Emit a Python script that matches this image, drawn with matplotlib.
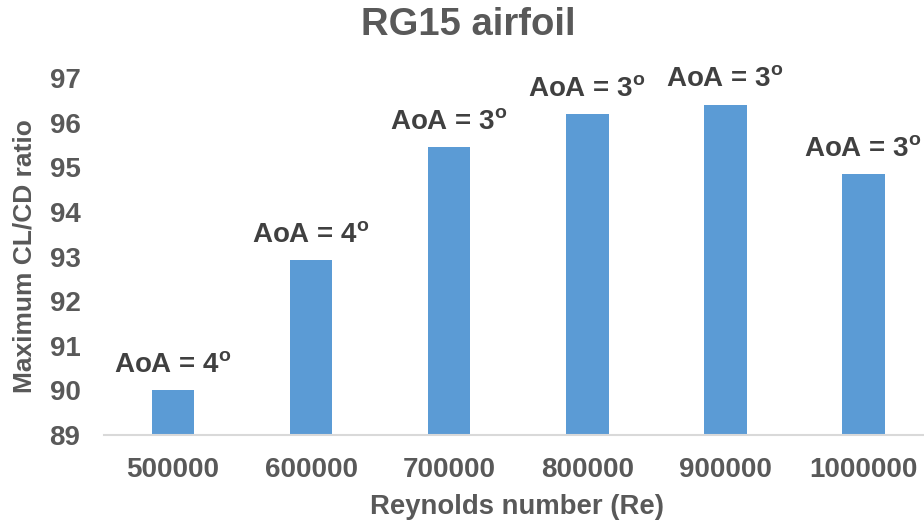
import matplotlib
matplotlib.use("Agg")
import matplotlib.pyplot as plt

# Data
reynolds = ["500000", "600000", "700000", "800000", "900000", "1000000"]
max_cl_cd = [90.0, 92.92, 95.45, 96.19, 96.41, 94.85]
aoa_deg = [4, 4, 3, 3, 3, 3]

plt.rcParams["font.family"] = ["Liberation Sans", "DejaVu Sans"]
plt.rcParams["font.weight"] = "bold"
plt.rcParams["mathtext.fontset"] = "custom"
plt.rcParams["mathtext.bf"] = "Liberation Sans:bold"
plt.rcParams["mathtext.rm"] = "Liberation Sans"

W, H = 924, 524
fig = plt.figure(figsize=(W / 100, H / 100), dpi=100)
left_px, right_px = 104, 924
bottom_px, top_px = 435, 78.3
ax = fig.add_axes([left_px / W, 1 - bottom_px / H,
                   (right_px - left_px) / W, (bottom_px - top_px) / H])

x = list(range(len(reynolds)))
ax.bar(x, max_cl_cd, width=0.31, color="#5B9BD5", bottom=0)

spacing = 138.04
ax.set_xlim(-0.5, -0.5 + (right_px - left_px) / spacing)
ax.set_ylim(89, 97)
ax.set_yticks(range(89, 98))
ax.set_xticks(x)
ax.set_xticklabels(reynolds)

ax.tick_params(axis="both", length=0, labelsize=20, labelcolor="#595959")
ax.tick_params(axis="y", pad=17)
ax.tick_params(axis="x", pad=16)

for side in ("top", "right", "left"):
    ax.spines[side].set_visible(False)
ax.spines["bottom"].set_color("#d9d9d9")
ax.spines["bottom"].set_linewidth(1.5)

for xi, v, a in zip(x, max_cl_cd, aoa_deg):
    ax.annotate(f"AoA = {a}$^{{\\mathrm{{o}}}}$", xy=(xi, v), xytext=(0, 17.5),
                textcoords="offset points", ha="center", va="center",
                fontsize=20, fontweight="bold", color="#404040")

fig.text(468 / W, 1 - 25 / H, "RG15 airfoil", ha="center", va="center",
         fontsize=27.5, fontweight="bold", color="#595959")
fig.text(25 / W, 1 - 256 / H, "Maximum CL/CD ratio", rotation=90,
         ha="center", va="center", fontsize=19, fontweight="bold",
         color="#595959")
fig.text(517 / W, 1 - 507 / H, "Reynolds number (Re)", ha="center",
         va="center", fontsize=19.8, fontweight="bold", color="#595959")

fig.savefig("out.png", dpi=100)
